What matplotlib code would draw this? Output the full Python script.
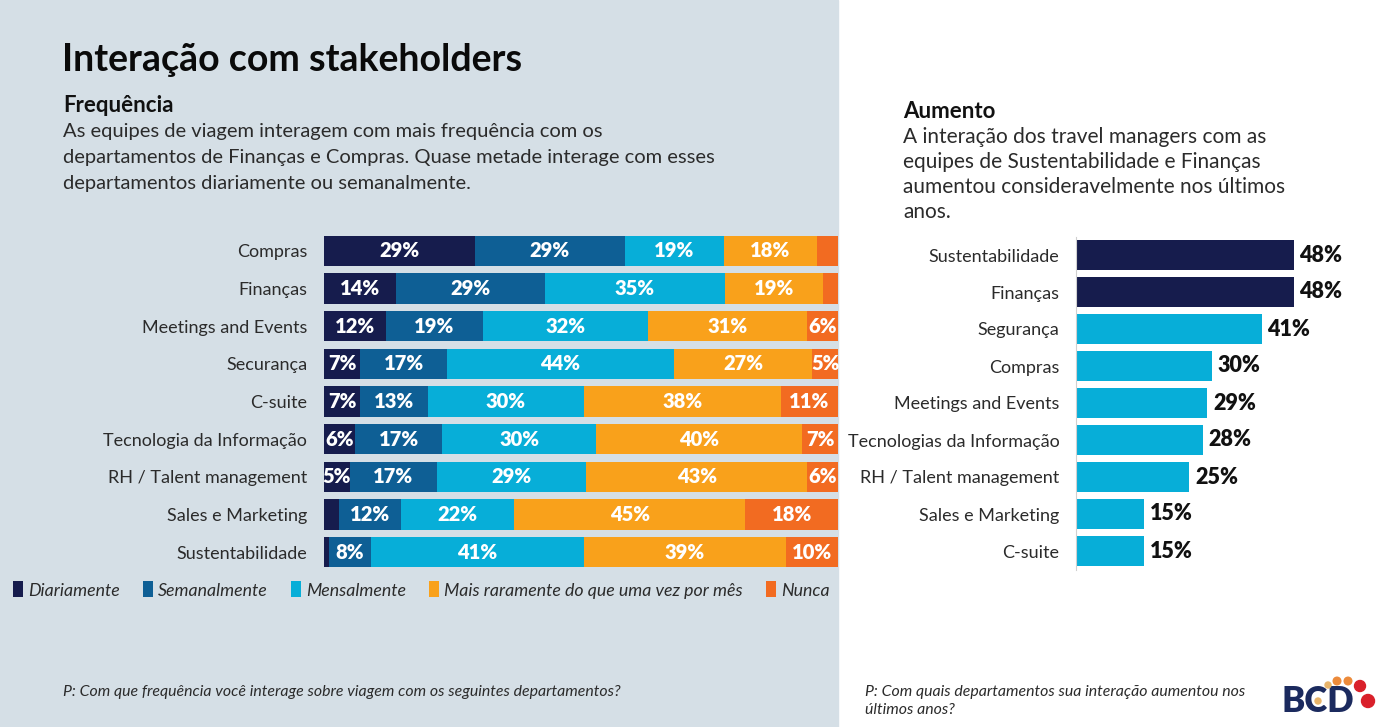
import numpy as np
import matplotlib.pyplot as plt
from matplotlib.patches import Rectangle, Circle

plt.rcParams['font.family'] = ['Lato', 'DejaVu Sans']

# --- data ---
freq_cats = ['Compras', 'Finanças', 'Meetings and Events', 'Securança', 'C-suite',
             'Tecnologia da Informação', 'RH / Talent management', 'Sales e Marketing',
             'Sustentabilidade']
diariamente = [29, 14, 12, 7, 7, 6, 5, 3, 1]
semanalmente = [29, 29, 19, 17, 13, 17, 17, 12, 8]
mensalmente = [19, 35, 32, 44, 30, 30, 29, 22, 41]
raramente = [18, 19, 31, 27, 38, 40, 43, 45, 39]
nunca = [4, 3, 6, 5, 11, 7, 6, 18, 10]
freq_names = ['Diariamente', 'Semanalmente', 'Mensalmente',
              'Mais raramente do que uma vez por mês', 'Nunca']

aum_cats = ['Sustentabilidade', 'Finanças', 'Segurança', 'Compras', 'Meetings and Events',
            'Tecnologias da Informação', 'RH / Talent management', 'Sales e Marketing', 'C-suite']
aum_vals = [48, 48, 41, 30, 29, 28, 25, 15, 15]

navy = '#161c4d'
freq_colors = [navy, '#0e5f95', '#07aed8', '#f9a11b', '#f26b21']
aum_colors = [navy, navy] + ['#07aed8'] * 7
bg = '#d5dfe6'
txt = '#2b2b2b'

W, H = 1395, 727
fig = plt.figure(figsize=(W / 100, H / 100), dpi=100)
fig.add_artist(Rectangle((0, 0), 838 / W, 1, transform=fig.transFigure,
                         color=bg, zorder=-10))


def fx(px):
    return px / W


def fy(py):
    return 1 - py / H


# --- left: stacked frequency bars (rows drawn as share of 100%) ---
series = [diariamente, semanalmente, mensalmente, raramente, nunca]
totals = np.sum(np.array(series, dtype=float), axis=0)

ax1 = fig.add_axes([fx(324), fy(571), 514 / W, 339 / H])
ax1.set_facecolor('none')
y = np.arange(len(freq_cats))
left = np.zeros(len(freq_cats))
handles = []
for name, vals, col in zip(freq_names, series, freq_colors):
    widths = np.array(vals) / totals * 100
    bars = ax1.barh(y, widths, left=left, height=0.8, color=col, label=name)
    ax1.bar_label(bars, labels=[f'{v}%' if v >= 5 else '' for v in vals],
                  label_type='center', color='white', fontweight='heavy', fontsize=14.5)
    handles.append(bars)
    left += widths
ax1.set_xlim(0, 100)
ax1.set_ylim(len(freq_cats) - 0.5, -0.5)
ax1.set_yticks(y, freq_cats)
ax1.tick_params(axis='y', length=0, pad=12, labelsize=13, labelcolor=txt)
ax1.set_xticks([])
for s in ax1.spines.values():
    s.set_visible(False)

fig.legend(handles, freq_names, loc='center left', bbox_to_anchor=(fx(6), fy(590)),
           ncol=5, frameon=False, prop={'style': 'italic', 'size': 12.8},
           handlelength=0.55, handleheight=1.0, handletextpad=0.3, columnspacing=1.3,
           labelcolor=txt, borderaxespad=0)

# --- right: increase bars ---
ax2 = fig.add_axes([fx(1076), fy(569.5), 272 / W, 333 / H])
ya = np.arange(len(aum_cats))
bars2 = ax2.barh(ya, aum_vals, height=0.8, color=aum_colors)
ax2.bar_label(bars2, labels=[f'{v}%' for v in aum_vals], padding=4,
              fontweight='heavy', fontsize=15.5, color='#111111')
ax2.set_xlim(0, 60)
ax2.set_ylim(len(aum_cats) - 0.5, -0.5)
ax2.set_yticks(ya, aum_cats)
ax2.tick_params(axis='y', length=0, pad=12, labelsize=13, labelcolor=txt)
ax2.set_xticks([])
for k, s in ax2.spines.items():
    s.set_visible(k == 'left')
ax2.spines['left'].set_color('#d0d0d0')
ax2.spines['left'].set_linewidth(0.8)

# --- texts ---
fig.text(fx(62), fy(60), 'Interação com stakeholders', fontsize=27,
         fontweight='bold', va='center', color='#0a0a0a')
fig.text(fx(63), fy(106), 'Frequência', fontsize=16, fontweight='bold',
         va='center', color='#111111')
left_lines = ['As equipes de viagem interagem com mais frequência com os',
              'departamentos de Finanças e Compras. Quase metade interage com esses',
              'departamentos diariamente ou semanalmente.']
for i, line in enumerate(left_lines):
    fig.text(fx(63), fy(132 + 25.5 * i), line, fontsize=14.5, va='center', color=txt)

fig.text(fx(903), fy(111), 'Aumento', fontsize=16, fontweight='bold',
         va='center', color='#111111')
right_lines = ['A interação dos travel managers com as',
               'equipes de Sustentabilidade e Finanças',
               'aumentou consideravelmente nos últimos',
               'anos.']
for i, line in enumerate(right_lines):
    fig.text(fx(903), fy(137 + 25 * i), line, fontsize=15, va='center', color=txt)

fig.text(fx(63), fy(692), 'P: Com que frequência você interage sobre viagem com os seguintes departamentos?',
         fontsize=11.4, style='italic', va='center', color=txt)
fig.text(fx(865), fy(692), 'P: Com quais departamentos sua interação aumentou nos',
         fontsize=11.4, style='italic', va='center', color=txt)
fig.text(fx(865), fy(710), 'últimos anos?', fontsize=11.4, style='italic',
         va='center', color=txt)

# --- logo ---
ov = fig.add_axes([0, 0, 1, 1])
ov.set_xlim(0, W)
ov.set_ylim(H, 0)
ov.axis('off')
ov.text(1281, 701, 'BCD', fontsize=25, fontweight='heavy', color='#1b2a5e',
        va='center', ha='left')
for cx, cy, r, c in [(1318, 701, 3, '#e8b46a'), (1328, 685, 3, '#e8b46a'),
                     (1337, 681, 3.8, '#ec8a3a'), (1348, 681, 3.8, '#ec8a3a'),
                     (1360, 686, 5.5, '#d9202a'), (1368, 701, 6.5, '#d9202a')]:
    ov.add_patch(Circle((cx, cy), r, color=c, zorder=3))

fig.savefig('out.png', dpi=100)
